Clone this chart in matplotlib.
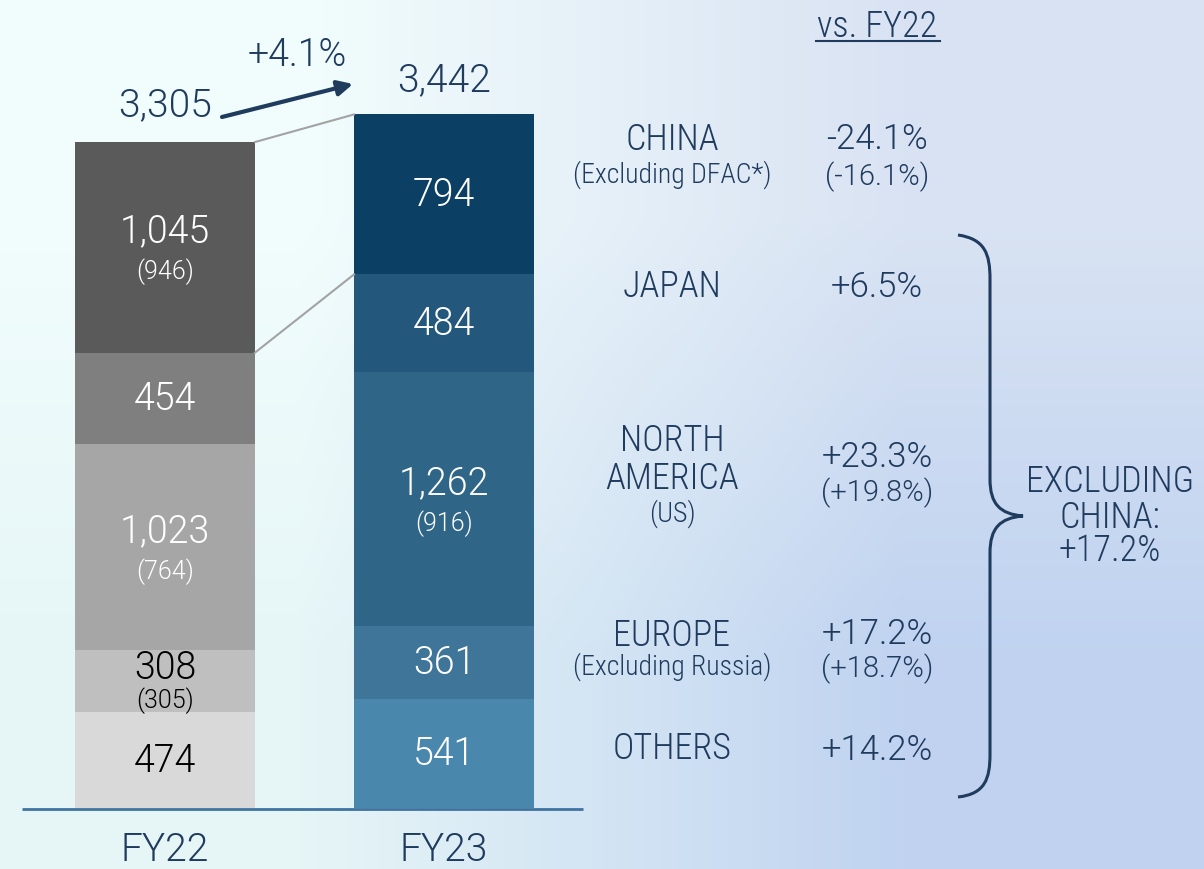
import numpy as np
import matplotlib.pyplot as plt
from matplotlib.path import Path
from matplotlib.patches import PathPatch

plt.rcParams['font.family'] = ['Roboto', 'Liberation Sans', 'DejaVu Sans']
plt.rcParams['font.weight'] = 300
NAME_FONT = ['Roboto Condensed', 'Roboto', 'DejaVu Sans']

# sales by region, bottom-up stack order
years = ["FY22", "FY23"]
regions = ["OTHERS", "EUROPE", "NORTH AMERICA", "JAPAN", "CHINA"]
fy22 = [474, 308, 1023, 454, 1045]
fy23 = [541, 361, 1262, 484, 794]
fy22_sub = [None, "(305)", "(764)", None, "(946)"]
fy23_sub = [None, None, "(916)", None, None]
totals = [3305, 3442]
growth_total = "+4.1%"

fy22_colors = ["#d9d9d9", "#bfbfbf", "#a6a6a6", "#7f7f7f", "#5a5a5a"]
fy23_colors = ["#4a87ad", "#3f7599", "#2f6688", "#23577c", "#0b3f63"]
fy22_text = ["black", "black", "white", "white", "white"]

region_names = [
    ("CHINA", 140, 26), ("(Excluding DFAC*)", 175, 20),
    ("JAPAN", 287, 26),
    ("NORTH", 441, 26), ("AMERICA", 479, 26), ("(US)", 514, 20),
    ("EUROPE", 636, 26), ("(Excluding Russia)", 667, 20),
    ("OTHERS", 749, 26),
]
region_pct = [
    ("-24.1%", 139, 25), ("(-16.1%)", 177, 21),
    ("+6.5%", 287, 25),
    ("+23.3%", 457, 25), ("(+19.8%)", 493, 21),
    ("+17.2%", 634, 25), ("(+18.7%)", 669, 21),
    ("+14.2%", 750, 25),
]
ex_china = ["EXCLUDING", "CHINA:", "+17.2%"]

navy = "#1f3b5e"
W, H = 1204, 870
fig = plt.figure(figsize=(W / 100, H / 100), dpi=100)

# background gradient
bg = fig.add_axes([0, 0, 1, 1])
grad = np.array([[[0.949, 0.992, 0.992], [0.851, 0.890, 0.953]],
                 [[0.902, 0.965, 0.969], [0.753, 0.827, 0.941]]])
bg.imshow(grad, extent=[0, 1, 0, 1], aspect="auto", interpolation="bilinear")
bg.axis("off")

# bar axes: y=0 at pixel 809, 0.2015 px per unit
scale = 0.2015
base_px = 809
ax = fig.add_axes([0, 0, 1, 1])
ax.patch.set_alpha(0)
ax.set_ylim(-(H - base_px) / scale, base_px / scale)
xpx = 279.0
ax.set_xlim(-165 / xpx, (W - 165) / xpx)
ax.axis("off")
width = 180 / xpx

bottom = 0
for v, c, tc, s in zip(fy22, fy22_colors, fy22_text, fy22_sub):
    ax.bar(0, v, width, bottom=bottom, color=c)
    mid = bottom + v / 2
    if s is None:
        ax.text(0, mid, f"{v:,}", ha="center", va="center", fontsize=27, color=tc)
    else:
        off = (10, -13) if v < 400 else (12, -17)
        ax.annotate(f"{v:,}", (0, mid), xytext=(0, off[0]), textcoords="offset points",
                    ha="center", va="center", fontsize=27, color=tc)
        ax.annotate(s, (0, mid), xytext=(0, off[1]), textcoords="offset points",
                    ha="center", va="center", fontsize=18, color=tc)
    bottom += v

bottom = 0
for v, c, s in zip(fy23, fy23_colors, fy23_sub):
    ax.bar(1, v, width, bottom=bottom, color=c)
    mid = bottom + v / 2
    if s is None:
        ax.text(1, mid, f"{v:,}", ha="center", va="center", fontsize=27, color="white")
    else:
        ax.annotate(f"{v:,}", (1, mid), xytext=(0, 12), textcoords="offset points",
                    ha="center", va="center", fontsize=27, color="white")
        ax.annotate(s, (1, mid), xytext=(0, -17), textcoords="offset points",
                    ha="center", va="center", fontsize=18, color="white")
    bottom += v

# connector lines between the bars
ax.plot([width / 2, 1 - width / 2], [totals[0], totals[1]], color="#a3a3a3", lw=1.5)
ax.plot([width / 2, 1 - width / 2], [totals[0] - fy22[-1], totals[1] - fy23[-1]],
        color="#a3a3a3", lw=1.5)

# totals above bars
for i, t in enumerate(totals):
    ax.annotate(f"{t:,}", (i, t), xytext=(0, 27 if i == 0 else 25), textcoords="offset points",
                ha="center", va="center", fontsize=28, color=navy)

# baseline and year labels
ax.plot([-143 / xpx, 418 / xpx], [-1 / scale, -1 / scale], color="#3f73a0", lw=2,
        solid_capstyle="butt")
for i, y in enumerate(years):
    ax.annotate(y, (i, 0), xytext=(0, -30), textcoords="offset points",
                ha="center", va="center", fontsize=28, color=navy)

# pixel-space overlay for annotations on the right
ov = fig.add_axes([0, 0, 1, 1])
ov.patch.set_alpha(0)
ov.set_xlim(0, W)
ov.set_ylim(H, 0)
ov.axis("off")

ov.annotate("", xy=(353, 85), xytext=(222, 118),
            arrowprops=dict(arrowstyle="-|>,head_length=0.9,head_width=0.45",
                            color=navy, lw=3, shrinkA=0, shrinkB=0))
ov.text(297, 55, growth_total, ha="center", va="center", fontsize=27, color=navy)

ov.text(877, 27, "vs. FY22", ha="center", va="center", fontsize=26, color=navy,
        family=NAME_FONT)
ov.plot([816, 940], [42, 42], color=navy, lw=1.5)

for txt, y, fs in region_names:
    ov.text(672, y, txt, ha="center", va="center", fontsize=fs, color=navy, family=NAME_FONT)
for txt, y, fs in region_pct:
    ov.text(877, y, txt, ha="center", va="center", fontsize=fs, color=navy)

# curly brace grouping the non-China regions
verts = [(958, 236), (985, 240), (990, 255), (990, 280),
         (990, 480),
         (990, 505), (1000, 515), (1023, 517),
         (1000, 519), (990, 529), (990, 554),
         (990, 755),
         (990, 780), (985, 795), (958, 798)]
codes = [Path.MOVETO, Path.CURVE4, Path.CURVE4, Path.CURVE4,
         Path.LINETO,
         Path.CURVE4, Path.CURVE4, Path.CURVE4,
         Path.CURVE4, Path.CURVE4, Path.CURVE4,
         Path.LINETO,
         Path.CURVE4, Path.CURVE4, Path.CURVE4]
ov.add_patch(PathPatch(Path(verts, codes), fill=False, edgecolor=navy, lw=2.2))

for txt, y in zip(ex_china, [482, 518, 551]):
    ov.text(1110, y, txt, ha="center", va="center", fontsize=26, color=navy, family=NAME_FONT)

fig.savefig("out.png", dpi=100)
